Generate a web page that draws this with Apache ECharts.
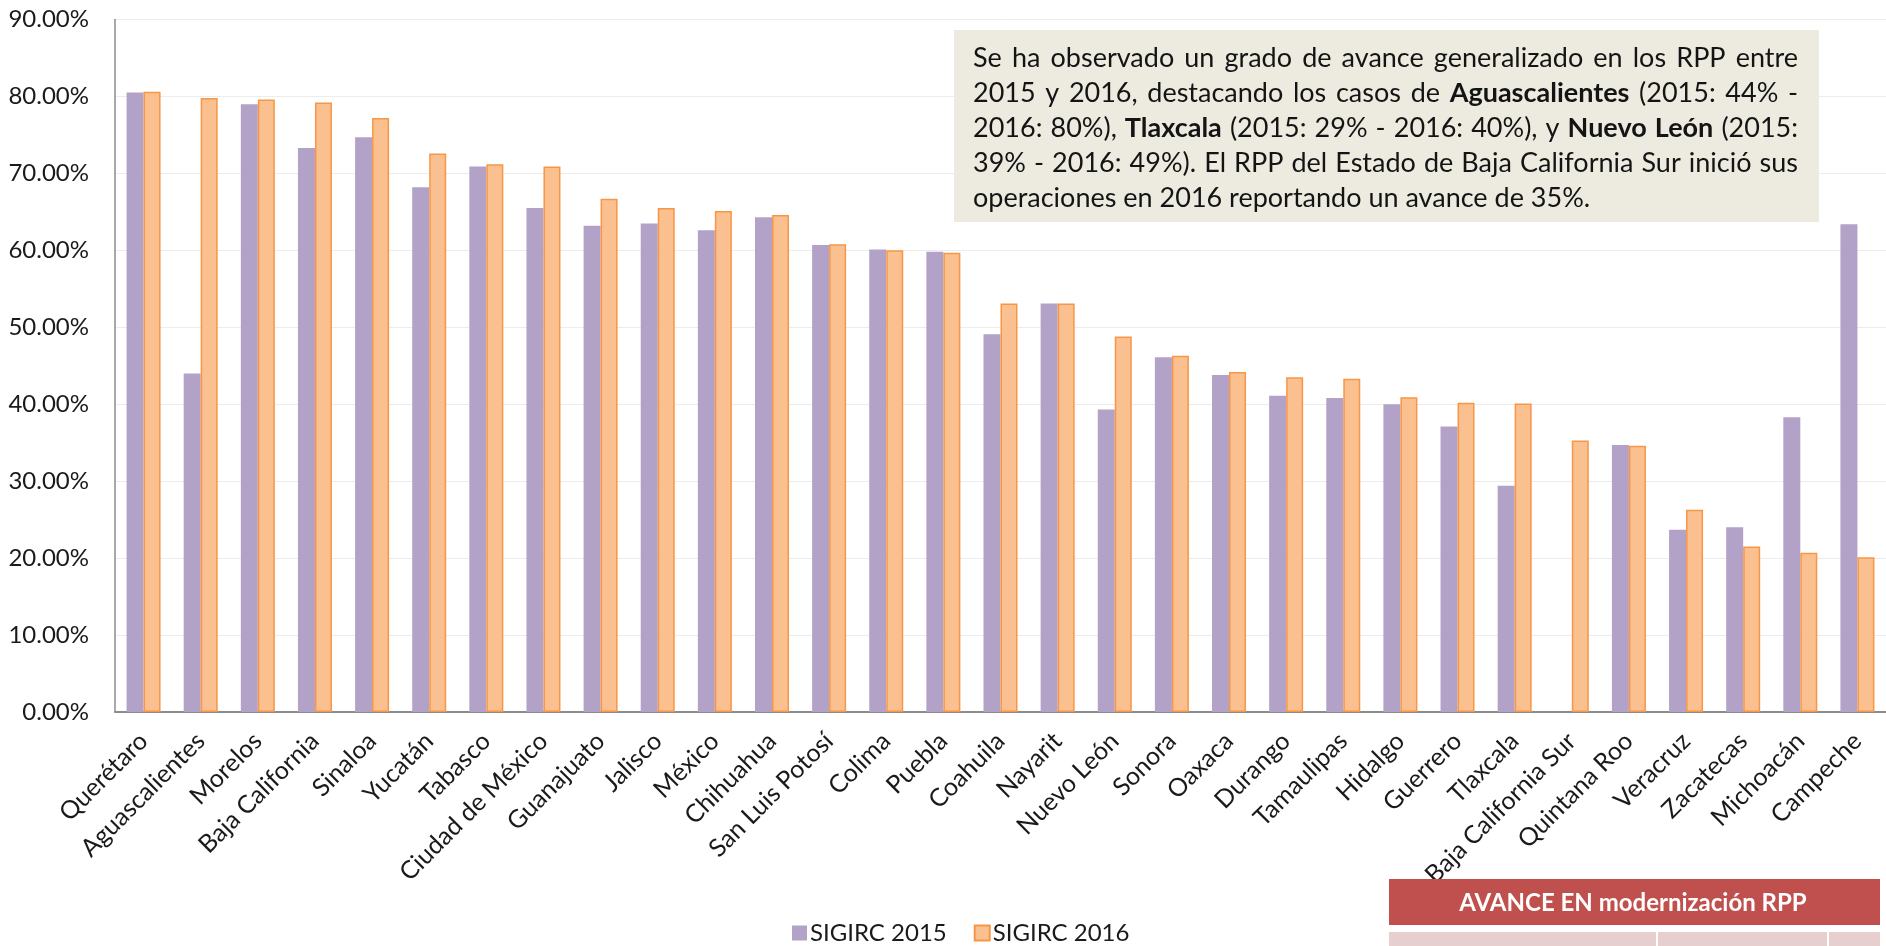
<!DOCTYPE html>
<html><head><meta charset="utf-8">
<script src="https://cdn.jsdelivr.net/npm/echarts@6/dist/echarts.min.js"></script>
<style>html,body{margin:0;padding:0;background:#fff}#c{width:1886px;height:946px}</style>
</head><body><div id="c"></div>
<script>
const categories = ['Querétaro','Aguascalientes','Morelos','Baja California','Sinaloa','Yucatán','Tabasco','Ciudad de México','Guanajuato','Jalisco','México','Chihuahua','San Luis Potosí','Colima','Puebla','Coahuila','Nayarit','Nuevo León','Sonora','Oaxaca','Durango','Tamaulipas','Hidalgo','Guerrero','Tlaxcala','Baja California Sur','Quintana Roo','Veracruz','Zacatecas','Michoacán','Campeche'];
const sigirc2015 = [80.5,44.0,79.0,73.3,74.7,68.2,70.9,65.5,63.2,63.5,62.6,64.3,60.7,60.1,59.8,49.1,53.1,39.3,46.1,43.8,41.1,40.8,40.0,37.1,29.4,null,34.7,23.7,24.0,38.3,63.4];
const sigirc2016 = [80.6,79.8,79.6,79.2,77.2,72.6,71.2,70.9,66.7,65.5,65.1,64.6,60.8,60.0,59.7,53.1,53.1,48.8,46.3,44.2,43.5,43.3,40.9,40.2,40.1,35.3,34.6,26.3,21.5,20.7,20.1];
const seriesNames = ['SIGIRC 2015','SIGIRC 2016'];
const yMin = 0, yMax = 90, yStep = 10;
const noteLines = [
  [['Se ha observado un grado de avance generalizado en los RPP entre', false]],
  [['2015 y 2016, destacando los casos de ', false], ['Aguascalientes', true], [' (2015: 44% -', false]],
  [['2016: 80%), ', false], ['Tlaxcala', true], [' (2015: 29% - 2016: 40%), y ', false], ['Nuevo León', true], [' (2015:', false]],
  [['39% - 2016: 49%). El RPP del Estado de Baja California Sur inició sus', false]],
  [['operaciones en 2016 reportando un avance de 35%.', false]]
];
const headerText = 'AVANCE EN modernización RPP';

const FONT = 'Lato';
const chart = echarts.init(document.getElementById('c'), null, {renderer: 'canvas'});

// justified note text
const noteSize = 27;
const noteX = 973, noteW = 825, noteY0 = 58.5, noteLH = 35;
const ctx = document.createElement('canvas').getContext('2d');
function measure(t, b) { ctx.font = (b ? 'bold ' : '') + noteSize + 'px ' + FONT; return ctx.measureText(t).width; }
const noteEls = [];
noteLines.forEach((segs, li) => {
  const toks = [];
  segs.forEach(([t, b]) => t.split(' ').filter(s => s.length).forEach(w => toks.push({t: w, b: b, w: measure(w, b)})));
  const sum = toks.reduce((a, k) => a + k.w, 0);
  const last = li === noteLines.length - 1;
  const gap = last ? measure(' ', false) : (noteW - sum) / (toks.length - 1);
  let x = noteX;
  toks.forEach(k => {
    noteEls.push({type: 'text', x: x, y: noteY0 + li * noteLH, silent: true, z: 20,
      style: {text: k.t, fontFamily: FONT, fontSize: noteSize, fontWeight: k.b ? 'bold' : 'normal', fill: '#141414', verticalAlign: 'middle'}});
    x += k.w + gap;
  });
});

const option = {
  animation: false,
  backgroundColor: '#ffffff',
  grid: {left: 115, right: 0, top: 19.5, bottom: 234, containLabel: false},
  legend: {
    left: 787, top: 916, itemWidth: 15, itemHeight: 15, itemGap: 27, icon: 'rect',
    textStyle: {fontFamily: FONT, fontSize: 24, color: '#1a1a1a', padding: [0, 0, 0, -2]},
    data: seriesNames
  },
  xAxis: {
    type: 'category', data: categories,
    axisLine: {lineStyle: {color: '#8c8c8c', width: 2}},
    axisTick: {show: false},
    axisLabel: {interval: 0, rotate: 45, margin: 25, fontFamily: FONT, fontSize: 25, color: '#1a1a1a'}
  },
  yAxis: {
    type: 'value', min: yMin, max: yMax, interval: yStep,
    axisLine: {show: true, lineStyle: {color: '#8c8c8c', width: 1.5}},
    axisTick: {show: false},
    splitLine: {lineStyle: {color: '#ececec', width: 1}},
    axisLabel: {margin: 26, fontFamily: FONT, fontSize: 24, color: '#1a1a1a', formatter: v => v.toFixed(2) + '%'}
  },
  series: [
    {name: seriesNames[0], type: 'bar', data: sigirc2015, barWidth: 17, barGap: '0%',
     itemStyle: {color: '#B3A2C7'}},
    {name: seriesNames[1], type: 'bar', data: sigirc2016, barWidth: 17, barGap: '0%',
     itemStyle: {color: '#FAC090', borderColor: '#F79646', borderWidth: 1.5}}
  ],
  graphic: {elements: [
    {type: 'rect', shape: {x: 954, y: 30, width: 865, height: 192}, style: {fill: '#EDEBE0'}, silent: true, z: 10},
    ...noteEls,
    {type: 'rect', shape: {x: 1389, y: 879, width: 491, height: 46}, style: {fill: '#C0504D'}, silent: true, z: 10},
    {type: 'text', x: 1633, y: 903, silent: true, z: 20, style: {text: headerText, fontFamily: FONT, fontSize: 24, fontWeight: 'bold', fill: '#ffffff', align: 'center', verticalAlign: 'middle'}},
    {type: 'rect', shape: {x: 1389, y: 932, width: 267, height: 14}, style: {fill: '#E6CFCE'}, silent: true, z: 10},
    {type: 'rect', shape: {x: 1658, y: 932, width: 169, height: 14}, style: {fill: '#E6CFCE'}, silent: true, z: 10},
    {type: 'rect', shape: {x: 1829, y: 932, width: 51, height: 14}, style: {fill: '#E6CFCE'}, silent: true, z: 10}
  ]}
};
chart.setOption(option);
</script></body></html>
